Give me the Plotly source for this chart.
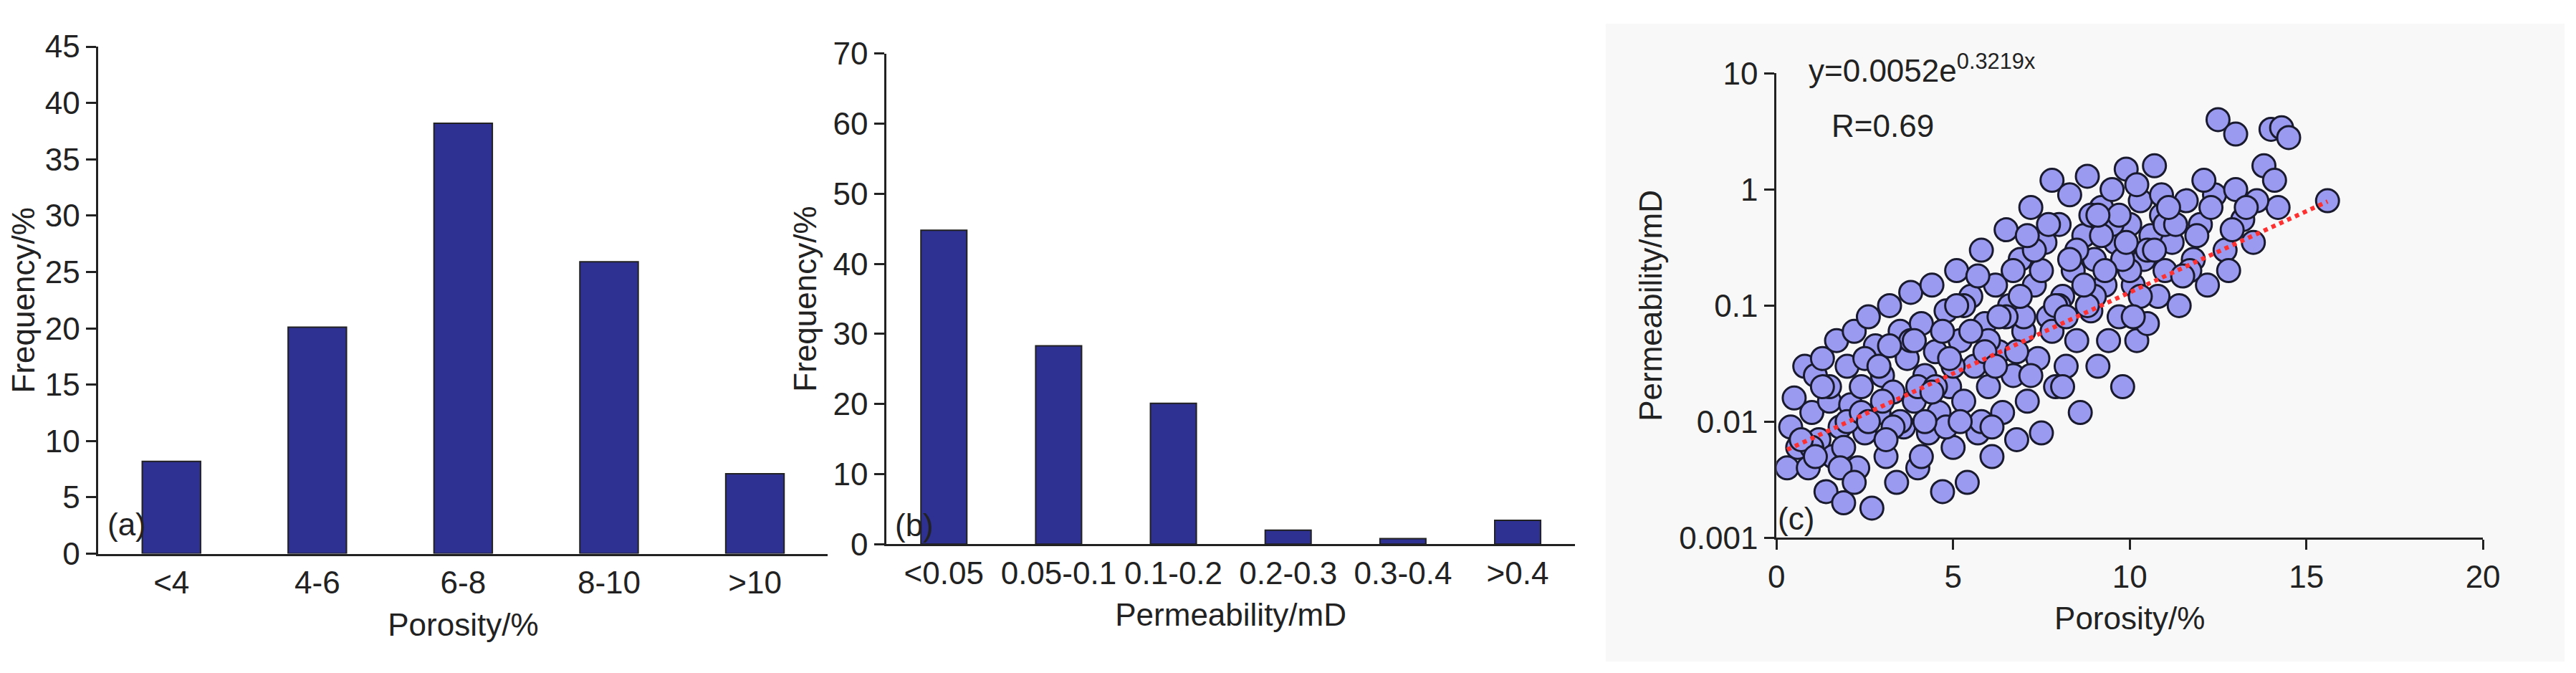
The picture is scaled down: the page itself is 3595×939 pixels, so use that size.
import plotly.graph_objects as go
import numpy as np

por_cats = ["<4", "4-6", "6-8", "8-10", ">10"]
por_freq = [8.2, 20.1, 38.2, 25.9, 7.1]
perm_cats = ["<0.05", "0.05-0.1", "0.1-0.2", "0.2-0.3", "0.3-0.4", ">0.4"]
perm_freq = [44.8, 28.3, 20.1, 2.0, 0.8, 3.4]

sc_x = [0.3,0.4,0.5,0.6,0.8,0.9,1.0,1.1,1.2,1.3,1.4,1.5,1.6,1.7,1.8,1.9,2.0,2.1,2.2,2.3,2.4,2.5,2.6,2.7,2.8,2.9,3.0,3.1,3.2,3.3,
        3.4,3.5,3.6,3.7,3.8,3.9,4.0,4.1,4.2,4.3,4.4,4.5,4.6,4.7,4.8,4.9,5.0,5.1,5.2,5.3,5.4,5.5,5.6,5.7,5.8,5.9,6.0,6.1,6.2,6.3,
        6.4,6.5,6.6,6.7,6.8,6.9,7.0,7.1,7.2,7.3,7.4,7.5,7.6,7.7,7.8,7.9,8.0,8.1,8.2,8.3,8.4,8.5,8.6,8.7,8.8,8.9,9.0,9.1,9.2,9.3,
        9.4,9.5,9.6,9.7,9.8,9.9,10.0,10.1,10.2,10.3,10.4,10.5,10.6,10.7,10.8,10.9,11.0,11.2,11.4,11.6,11.8,12.0,12.2,12.5,12.4,12.7,
        13.0,13.0,13.2,13.5,13.8,14.0,14.1,14.3,14.5,14.2,15.6,13.6,12.9,
        1.0,2.0,3.0,4.0,5.0,6.0,7.0,8.0,9.0,10.0,11.0,3.5,4.5,5.5,6.5,7.5,8.5,9.5,10.5,2.5,1.5,6.8,7.8,8.8,9.8,5.8,4.8,3.8,
        0.7,1.3,1.9,2.4,2.9,3.3,3.9,4.4,4.9,5.3,5.9,6.3,6.9,7.3,7.9,8.3,8.9,9.3,9.9,10.3,10.9,11.3,11.9,12.3,
        1.1,1.8,2.6,3.2,4.1,4.7,5.2,5.7,6.2,6.7,7.2,7.7,8.2,8.7,9.2,9.7,10.2,10.7,11.1,11.7,
        2.2,3.1,4.2,5.1,6.1,7.1,8.1,9.1,10.1,11.5,12.1,12.8,13.3]
sc_y = [0.004,0.009,0.016,0.006,0.03,0.004,0.012,0.025,0.007,0.035,0.0025,0.015,0.005,0.05,0.009,0.002,0.03,0.014,0.06,0.004,0.02,0.008,0.08,0.0018,0.045,0.012,0.025,0.005,0.1,0.018,
        0.003,0.06,0.009,0.035,0.13,0.015,0.004,0.07,0.025,0.008,0.15,0.04,0.012,0.0025,0.09,0.02,0.006,0.2,0.05,0.015,0.003,0.12,0.03,0.008,0.3,0.07,0.02,0.005,0.15,0.04,
        0.012,0.45,0.1,0.025,0.007,0.25,0.06,0.015,0.7,0.15,0.035,0.008,0.35,0.08,1.2,0.02,0.5,0.12,0.03,0.9,0.2,0.05,0.012,0.4,1.3,0.09,0.25,0.03,0.7,0.15,
        0.05,1.0,0.35,0.08,0.02,1.5,0.5,0.15,0.05,0.8,0.25,0.07,0.4,1.6,0.12,0.6,0.2,0.35,0.1,0.8,0.25,0.5,0.15,4.0,0.9,0.3,
        3.0,1.0,0.55,0.35,1.6,3.3,1.2,3.4,2.8,0.7,0.8,0.8,0.45,
        0.006,0.01,0.015,0.02,0.03,0.05,0.08,0.1,0.12,0.2,0.5,0.01,0.02,0.06,0.08,0.2,0.3,0.5,0.3,0.035,0.02,0.04,0.06,0.1,0.25,0.01,0.009,0.05,
        0.007,0.02,0.006,0.012,0.03,0.009,0.05,0.018,0.035,0.1,0.04,0.08,0.12,0.3,0.1,0.25,0.6,0.2,0.35,0.12,0.9,0.5,0.4,0.7,
        0.005,0.004,0.01,0.045,0.005,0.06,0.01,0.18,0.03,0.2,0.025,0.5,0.08,0.15,0.4,0.6,1.1,0.3,0.7,0.2,
        0.003,0.007,0.01,0.1,0.009,0.4,0.02,0.6,0.08,0.18,1.2,0.2,0.7]
fit_a, fit_b = 0.0052, 0.3219

bar_color = "#2e3192"
fig = go.Figure()
fig.add_shape(type="rect", xref="paper", yref="paper", x0=0.624, x1=1.0, y0=0.0, y1=1.0,
              fillcolor="#f8f8f8", line=dict(width=0), layer="below")

fig.add_trace(go.Bar(x=por_cats, y=por_freq, width=0.4, marker=dict(color=bar_color, line=dict(color="#222", width=2)),
                     xaxis="x", yaxis="y", showlegend=False))
fig.add_trace(go.Bar(x=perm_cats, y=perm_freq, width=0.4, marker=dict(color=bar_color, line=dict(color="#222", width=2)),
                     xaxis="x2", yaxis="y2", showlegend=False))
fig.add_trace(go.Scatter(x=sc_x, y=sc_y, mode="markers", xaxis="x3", yaxis="y3", showlegend=False,
                         marker=dict(size=32, color="#9a9af0", line=dict(color="#1a1a2e", width=3))))
fx = np.linspace(0.3, 15.6, 60)
fig.add_trace(go.Scatter(x=fx, y=fit_a*np.exp(fit_b*fx), mode="lines", xaxis="x3", yaxis="y3", showlegend=False,
                         line=dict(color="#ff3030", width=6, dash="dot")))

F = dict(family="Liberation Sans, Arial", size=44, color="#222")
ax = dict(showline=True, linecolor="#222", linewidth=3, ticks="outside", ticklen=14, tickwidth=3,
          tickcolor="#222", tickfont=F, showgrid=False, zeroline=False)
fig.update_layout(
    width=3595, height=939, margin=dict(l=0, r=0, t=0, b=0),
    plot_bgcolor="rgba(0,0,0,0)", paper_bgcolor="white", font=F, bargap=0.6,
    xaxis=dict(domain=[0.033, 0.319], anchor="y", showline=True, linecolor="#222", linewidth=3, ticks="",
               tickfont=F, title=dict(text="Porosity/%", font=F, standoff=20)),
    yaxis=dict(ax, domain=[0.169, 0.964], anchor="x", range=[0, 45], dtick=5,
               title=dict(text="Frequency/%", font=F, standoff=10)),
    xaxis2=dict(domain=[0.342, 0.612], anchor="y2", showline=True, linecolor="#222", linewidth=3, ticks="",
                tickfont=F, title=dict(text="Permeability/mD", font=F, standoff=20)),
    yaxis2=dict(ax, domain=[0.184, 0.953], anchor="x2", range=[0, 70], dtick=10,
                title=dict(text="Frequency/%", font=F, standoff=10)),
    xaxis3=dict(ax, domain=[0.691, 0.968], anchor="y3", range=[0, 20], dtick=5,
                title=dict(text="Porosity/%", font=F, standoff=20)),
    yaxis3=dict(ax, domain=[0.194, 0.922], anchor="x3", type="log", range=[-3, 1],
                tickvals=[0.001, 0.01, 0.1, 1, 10], ticktext=["0.001", "0.01", "0.1", "1", "10"],
                title=dict(text="Permeability/mD", font=F, standoff=10)),
    annotations=[
        dict(text="(a)", xref="x domain", yref="y domain", x=0.01, y=0.02, xanchor="left", yanchor="bottom", showarrow=False, font=F),
        dict(text="(b)", xref="x2 domain", yref="y2 domain", x=0.01, y=0.0, xanchor="left", yanchor="bottom", showarrow=False, font=F),
        dict(text="(c)", xref="x3 domain", yref="y3 domain", x=0.0, y=0.0, xanchor="left", yanchor="bottom", showarrow=False, font=F),
        dict(text="y=0.0052e<sup>0.3219x</sup>", xref="paper", yref="paper", x=0.703, y=0.93, xanchor="left", yanchor="middle",
             showarrow=False, font=F),
        dict(text="R=0.69", xref="paper", yref="paper", x=0.712, y=0.84, xanchor="left", yanchor="middle",
             showarrow=False, font=F),
    ],
)
fig.write_html("out.html")
